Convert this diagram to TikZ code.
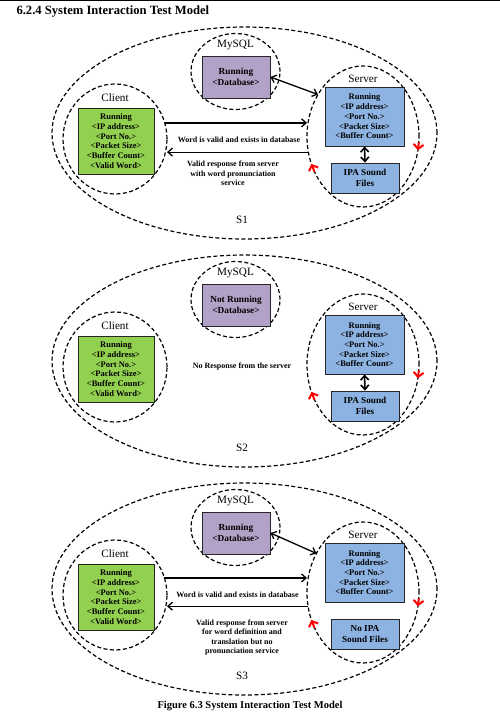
\documentclass[tikz,border=0pt]{standalone}
\usepackage{fontspec}
\setmainfont{Liberation Serif}
\usetikzlibrary{shapes.geometric,arrows.meta}

\definecolor{clientgreen}{HTML}{92D050}
\definecolor{dbpurple}{HTML}{B3A2C7}
\definecolor{serverblue}{HTML}{8DB3E2}

\begin{document}
\begin{tikzpicture}[x=1pt, y=-1pt,
    zone/.style = {draw, ellipse, line width=1.2pt, dash pattern=on 4pt off 2.5pt, inner sep=0pt, outer sep=0pt},
    box/.style = {draw=black!85, line width=0.8pt, align=center, inner sep=0pt, font=\fontsize{8.5}{9.7}\selectfont\bfseries},
    tag/.style = {font=\fontsize{11.2}{13}\selectfont},
    note/.style = {align=center, font=\fontsize{8}{9.6}\selectfont\bfseries},
    link/.style = {line width=1.3pt, -{Straight Barb[length=4.5pt,width=8pt]}},
    twoway/.style = {line width=1.3pt, {Straight Barb[length=4.5pt,width=8pt]}-{Straight Barb[length=4.5pt,width=8pt]}},
    turn/.style = {red, line width=2pt, -{Straight Barb[length=4.5pt,width=10pt]}}]
    \useasboundingbox (0,0) rectangle (500,720);
    \draw[line width=1pt] (0,0.5) -- (500,0.5);
    \node[anchor=base west, font=\fontsize{12.6}{15}\selectfont\bfseries] (title) at (13,14) {6.2.4 System Interaction Test Model};

    % one layout for the three cases S1, S2, S3
    \foreach \p/\off/\dbstate/\ipa in {1/0/Running/{IPA Sound\\Files}, 2/228/Not Running/{IPA Sound\\Files}, 3/456/Running/{No IPA\\Sound Files}}
    {
        \begin{scope}[shift={(0,\off)}]
            \node[zone, minimum width=385pt, minimum height=212pt] (s\p) at (244.5,133) {};
            \node[zone, minimum width=89pt, minimum height=76pt] (my\p) at (235.5,71.5) {};
            \node[tag] (myl\p) at (235.5,45) {MySQL};
            \node[box, fill=dbpurple, minimum width=68pt, minimum height=42pt, font=\fontsize{9.3}{11.5}\selectfont\bfseries] (db\p) at (236,77) {\dbstate\\<Database>};
            \node[zone, minimum width=104pt, minimum height=110pt] (c\p) at (115,139) {};
            \node[tag] (cl\p) at (115,98) {Client};
            \node[box, fill=clientgreen, minimum width=76pt, minimum height=66pt] (cb\p) at (116,141) {Running\\<IP address>\\<Port No.>\\<Packet Size>\\<Buffer Count>\\<Valid Word>};
            \node[zone, minimum width=112pt, minimum height=141pt] (z\p) at (363,136.5) {};
            \node[tag] (zl\p) at (363,79) {Server};
            \node[box, fill=serverblue, minimum width=79pt, minimum height=59pt] (sb\p) at (364.5,116.5) {Running\\<IP address>\\<Port No.>\\<Packet Size>\\<Buffer Count>};
            \node[box, fill=serverblue, minimum width=68pt, minimum height=30pt, font=\fontsize{9.2}{11.3}\selectfont\bfseries] (ib\p) at (365,178) {\ipa};
            \draw[turn] (z\p.216) -- (z\p.208);
            \draw[turn] (z\p.354) -- (z\p.346);
            \node[tag] (sl\p) at (242,220) {S\p};
        \end{scope}
    }

    \foreach \p in {1,2}
        \draw[twoway, line width=1.6pt] (sb\p.south) -- (ib\p.north);

    \draw[twoway] (db1.east) -- (z1.137);
    \draw[link] (c1.18) -- (c1.18 -| z1.west);
    \draw[link] (z1.196) -- (z1.196 -| c1.east);
    \node[note] (w1) at (239,140) {Word is valid and exists in database};
    \node[note] (r1) at (233,173.5) {Valid response from server\\with word pronunciation\\service};

    \node[note] (n2) at (242,367) {No Response from the server};

    \draw[twoway] (db3.east) -- (z3.140);
    \draw[link] (c3.19) -- (c3.19 -| z3.west);
    \draw[link] (z3.194) -- (z3.194 -| c3.east);
    \node[note] (w3) at (237.5,595) {Word is valid and exists in database};
    \node[note] (r3) at (242,637.5) {Valid response from server\\for word definition and\\translation but no\\pronunciation service};

    \node[font=\fontsize{10.5}{12}\selectfont\bfseries] (cap) at (250,706) {Figure 6.3 System Interaction Test Model};
\end{tikzpicture}
\end{document}
